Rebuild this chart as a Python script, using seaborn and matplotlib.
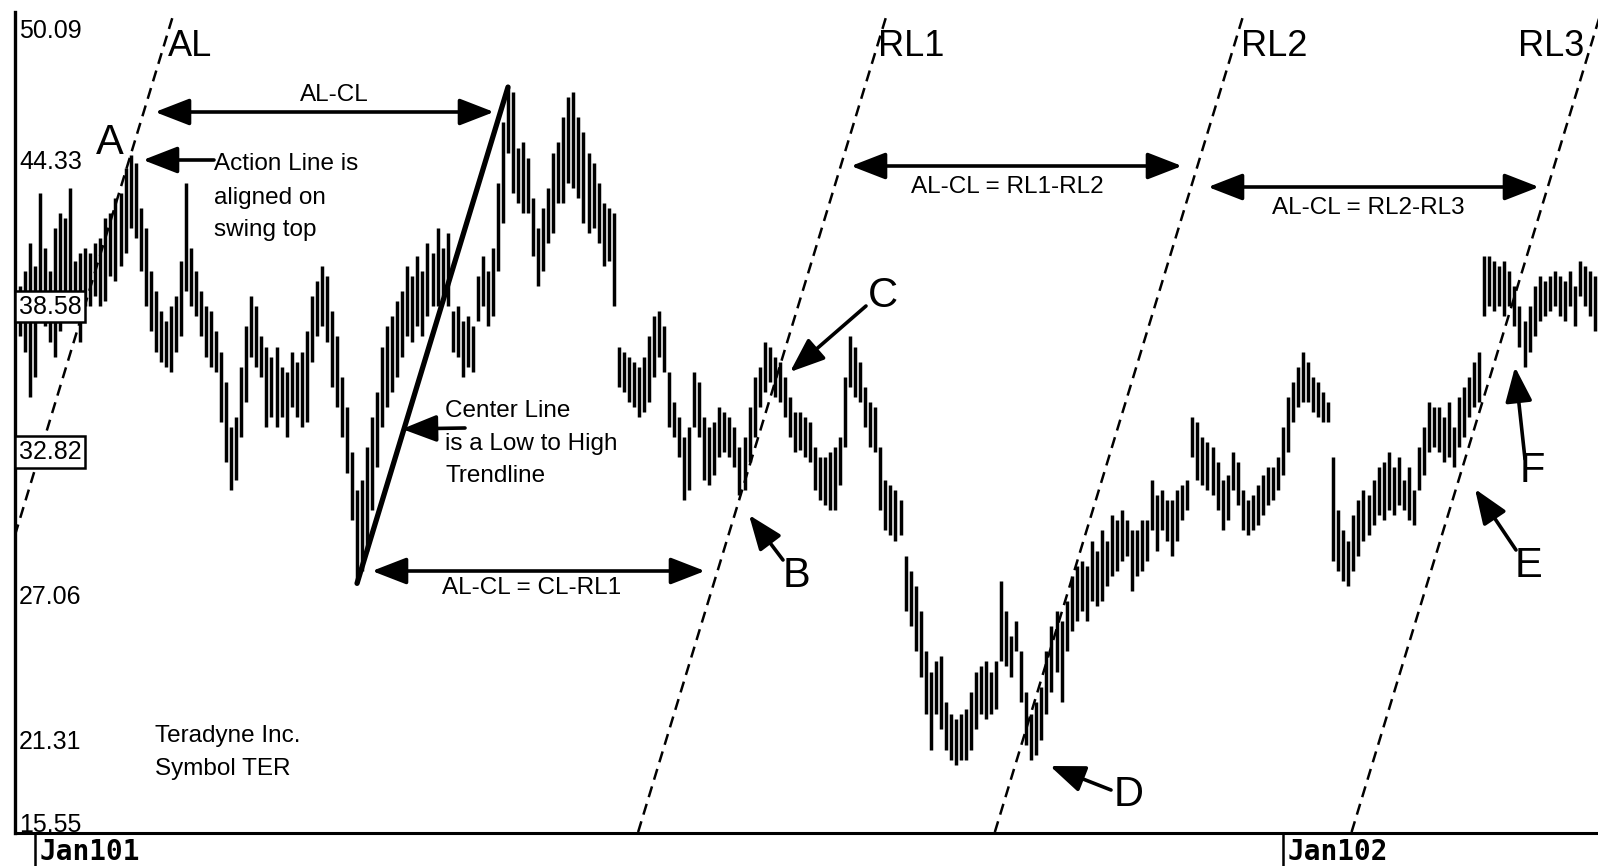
import numpy as np
import pandas as pd
import matplotlib
matplotlib.use("Agg")
import matplotlib.pyplot as plt
import matplotlib.transforms as mtransforms
import seaborn as sns

# ---------------- data (Teradyne daily bars) ----------------
high = [
    39.4, 40.0, 41.1, 40.2, 43.1, 40.9, 40.0, 41.7, 42.3, 42.1,
    43.3, 40.4, 40.7, 40.9, 40.7, 41.1, 41.3, 42.1, 42.3, 42.9,
    43.1, 44.1, 44.6, 44.3, 42.5, 41.7, 40.0, 39.2, 38.4, 38.0,
    38.6, 39.0, 40.4, 43.5, 40.9, 40.0, 39.2, 38.6, 38.4, 37.6,
    36.8, 35.6, 33.8, 34.2, 36.2, 37.8, 39.0, 38.6, 37.4, 37.0,
    36.6, 37.0, 36.2, 36.0, 36.8, 36.4, 36.8, 37.6, 39.0, 39.6,
    40.2, 39.8, 38.4, 37.4, 35.8, 34.6, 32.8, 31.3, 31.7, 33.0,
    34.2, 35.2, 37.0, 37.8, 38.2, 38.8, 39.2, 40.2, 39.8, 40.6,
    40.0, 41.1, 40.7, 41.7, 40.9, 41.5, 38.4, 38.6, 38.0, 38.2,
    37.8, 39.8, 40.6, 40.0, 40.9, 43.5, 45.9, 47.3, 47.1, 44.9,
    45.1, 44.5, 42.9, 41.7, 42.5, 43.3, 44.7, 45.1, 46.1, 46.9,
    47.1, 46.1, 45.5, 44.7, 44.3, 43.5, 42.7, 42.5, 42.3, 37.0,
    36.8, 36.6, 36.4, 36.2, 36.6, 37.4, 38.2, 38.4, 37.8, 36.0,
    34.8, 34.2, 33.4, 33.8, 36.0, 35.6, 34.2, 33.8, 34.0, 34.6,
    34.4, 34.2, 33.8, 33.0, 33.4, 34.6, 35.8, 36.2, 37.2, 37.0,
    36.6, 36.4, 35.8, 35.0, 34.4, 34.4, 34.2, 34.0, 33.0, 32.6,
    32.6, 32.8, 33.0, 33.4, 35.8, 37.4, 37.0, 36.4, 35.4, 34.8,
    34.6, 33.0, 31.7, 31.5, 31.3, 30.9, 28.7, 28.1, 27.5, 26.5,
    24.9, 24.1, 24.5, 24.7, 22.9, 22.4, 22.2, 22.4, 22.6, 23.3,
    24.1, 24.3, 24.5, 24.1, 24.5, 27.7, 26.5, 25.5, 26.1, 24.9,
    23.3, 22.4, 22.9, 23.5, 24.9, 25.9, 26.5, 26.1, 26.9, 27.9,
    28.3, 28.5, 28.3, 29.3, 28.9, 29.7, 29.3, 30.3, 30.1, 30.5,
    30.1, 29.7, 29.7, 30.1, 30.1, 31.7, 31.1, 31.3, 30.9, 30.9,
    31.3, 31.5, 31.7, 34.2, 34.0, 33.4, 33.2, 33.0, 32.4, 31.7,
    31.9, 32.8, 32.4, 31.3, 30.9, 31.1, 31.5, 31.9, 32.2, 32.2,
    32.6, 33.8, 35.0, 35.6, 36.2, 36.8, 36.4, 35.8, 35.6, 35.2,
    34.8, 32.6, 30.5, 29.7, 29.3, 30.3, 30.9, 31.3, 31.1, 31.7,
    32.2, 32.4, 32.8, 32.2, 32.6, 31.7, 32.2, 31.3, 33.0, 33.8,
    34.8, 34.6, 34.6, 34.2, 34.8, 33.8, 35.0, 35.4, 35.8, 36.4,
    36.8, 40.6, 40.6, 40.4, 40.2, 40.4, 40.0, 39.4, 38.6, 38.0,
    38.6, 39.4, 39.8, 39.6, 39.8, 40.0, 39.8, 39.6, 40.0, 39.4,
    40.4, 40.2, 40.0, 39.8]

low = [
    37.4, 36.8, 35.0, 35.8, 38.6, 37.8, 37.2, 36.6, 37.6, 38.6,
    38.8, 38.2, 37.2, 38.6, 38.6, 39.0, 38.6, 38.8, 39.8, 39.6,
    40.2, 40.7, 41.7, 41.3, 40.0, 38.6, 37.6, 36.8, 36.4, 36.2,
    36.0, 36.8, 37.4, 39.2, 38.6, 38.2, 37.4, 36.6, 36.2, 36.0,
    34.0, 32.4, 31.3, 31.7, 33.4, 34.8, 36.6, 36.2, 35.8, 33.8,
    34.2, 33.8, 34.2, 33.4, 34.6, 34.2, 33.8, 34.0, 36.4, 37.4,
    37.8, 37.2, 35.4, 34.6, 33.4, 32.0, 30.1, 27.6, 28.1, 28.9,
    30.5, 32.2, 33.8, 34.6, 35.2, 35.8, 36.6, 37.4, 37.2, 37.8,
    37.4, 38.2, 38.6, 38.6, 39.0, 38.6, 36.8, 36.6, 35.8, 36.2,
    36.0, 38.0, 38.6, 37.8, 38.2, 40.0, 41.9, 44.7, 43.1, 42.7,
    42.3, 42.3, 40.6, 39.4, 40.0, 41.1, 41.5, 42.7, 42.7, 43.5,
    43.3, 42.9, 41.9, 41.5, 41.7, 41.1, 40.2, 40.4, 38.6, 35.4,
    35.2, 34.8, 34.6, 34.2, 34.4, 34.8, 35.8, 36.6, 36.0, 33.8,
    33.4, 32.6, 30.9, 31.3, 33.8, 33.4, 31.7, 31.5, 31.9, 32.6,
    32.8, 32.6, 32.2, 31.1, 31.3, 32.4, 33.4, 34.6, 35.2, 35.6,
    35.0, 34.8, 34.2, 33.4, 32.8, 32.9, 32.6, 32.4, 31.3, 30.9,
    30.7, 30.5, 30.5, 31.5, 33.0, 35.4, 35.0, 34.8, 33.8, 33.0,
    32.8, 30.5, 29.7, 29.5, 29.3, 29.5, 26.5, 25.9, 24.9, 23.9,
    22.4, 21.0, 22.4, 21.8, 21.0, 20.6, 20.4, 20.6, 20.6, 21.0,
    21.8, 22.4, 22.2, 22.4, 22.6, 24.5, 24.3, 23.9, 24.9, 22.9,
    21.2, 20.6, 20.8, 21.4, 22.4, 23.3, 24.1, 22.9, 24.9, 25.7,
    26.1, 26.5, 26.1, 26.9, 26.7, 26.9, 27.5, 27.9, 28.1, 28.5,
    28.7, 27.3, 27.9, 28.1, 28.5, 29.7, 28.9, 29.7, 29.3, 28.7,
    29.3, 30.1, 30.5, 32.6, 31.7, 31.5, 31.3, 31.1, 30.5, 29.7,
    30.1, 31.3, 30.7, 29.7, 29.5, 29.7, 29.9, 30.3, 30.7, 30.9,
    31.3, 31.9, 32.8, 34.0, 34.6, 34.8, 34.8, 34.4, 34.2, 34.0,
    34.0, 28.5, 28.1, 27.7, 27.5, 28.1, 28.7, 29.3, 29.5, 29.9,
    30.3, 30.1, 30.5, 30.3, 30.7, 30.5, 30.1, 29.9, 31.3, 31.9,
    32.8, 33.0, 32.8, 32.4, 32.6, 32.2, 33.0, 33.4, 34.2, 34.6,
    34.8, 38.2, 38.6, 38.4, 38.6, 38.2, 38.6, 37.8, 37.0, 36.2,
    36.8, 37.4, 38.0, 38.2, 38.4, 38.6, 38.2, 38.0, 38.6, 37.8,
    39.0, 38.6, 38.2, 37.6]

price_ticks = [50.09, 44.33, 38.58, 32.82, 27.06, 21.31, 15.55]
boxed_ticks = [38.58, 32.82]
date_tick_days = [3, 251]
date_tick_labels = ["Jan101", "Jan102"]

# anchors of the pitchfork-style lines (bar indices)
al_bar = 22        # swing top "A"
cl_low_bar = 67    # centre line start (low)
cl_high_bar = 97   # centre line end (high)

# ---------------- figure ----------------
sns.set_theme(style="white")
plt.rcParams["font.family"] = ["Liberation Sans", "DejaVu Sans"]

W, H = 1598, 866
fig = plt.figure(figsize=(W / 100, H / 100), dpi=100)
ax_top, ax_bot, ax_left = 12, 833, 15
ax = fig.add_axes([ax_left / W, (H - ax_bot) / H, (W - ax_left) / W, (ax_bot - ax_top) / H])

n = len(high)
day = np.arange(n)
df = pd.DataFrame({"day": np.concatenate([day, day]),
                   "price": np.concatenate([high, low])})
sns.lineplot(data=df, x="day", y="price", units="day", estimator=None,
             color="black", linewidth=2.5, ax=ax, legend=False,
             solid_capstyle="butt")

ylo, yhi = 17.69, 50.28
ax.set_xlim(-0.97, 313.6)
ax.set_ylim(ylo, yhi)
ax.set_xlabel("")
ax.set_ylabel("")
ax.set_xticks([])
ax.set_yticks([])
for s in ["top", "right"]:
    ax.spines[s].set_visible(False)
ax.spines["left"].set_linewidth(2.4)
ax.spines["bottom"].set_linewidth(2.2)
ax.spines["left"].set_color("black")
ax.spines["bottom"].set_color("black")

# ---------------- centre line, action line and reaction lines ----------------
hi = np.array(high)
lo = np.array(low)
slope = (hi[cl_high_bar] - lo[cl_low_bar]) / (cl_high_bar - cl_low_bar)
ax.plot([cl_low_bar, cl_high_bar], [lo[cl_low_bar], hi[cl_high_bar]],
        color="black", lw=3.8, solid_capstyle="round", zorder=4)
a_price = hi[al_bar]
shift = cl_low_bar + (a_price - lo[cl_low_bar]) / slope - al_bar
xs = np.array([-20.0, 340.0])
for k in [0, 2, 3, 4]:
    x0 = al_bar + k * shift
    ax.plot(xs, a_price + slope * (xs - x0), color="black", lw=1.8,
            ls=(0, (4.5, 2.8)), zorder=4)

# ---------------- price labels inside the axis ----------------
ytrans = mtransforms.blended_transform_factory(ax.transAxes, ax.transData)
for v in price_ticks:
    yv = float(np.clip(v, ylo + 0.3, yhi - 0.75))
    kw = dict(transform=ytrans, ha="left", va="center", fontsize=18,
              color="black", zorder=6)
    if v in boxed_ticks:
        kw["bbox"] = dict(boxstyle="square,pad=0.15", fc="white", ec="black", lw=1.8)
    ax.text(0.0025, yv, f"{v:.2f}", **kw)

# ---------------- date ticks ----------------
xtrans = mtransforms.blended_transform_factory(ax.transData, ax.transAxes)
for d, lab in zip(date_tick_days, date_tick_labels):
    ax.plot([d, d], [0, -0.045], transform=xtrans, color="black", lw=1.8, clip_on=False)
    ax.text(d + 1.0, -0.023, lab, transform=xtrans, ha="left", va="center",
            family="DejaVu Sans Mono", fontweight="bold", fontsize=20, color="black")

# ---------------- annotations (figure pixel layout) ----------------
def fp(x, y):
    return (x, H - y)

def arrow(tail, tip, both=False):
    style = ("<|-|>" if both else "-|>") + ",head_length=0.85,head_width=0.33"
    ax.annotate("", xy=fp(*tip), xytext=fp(*tail),
                xycoords="figure pixels", textcoords="figure pixels",
                arrowprops=dict(arrowstyle=style, color="black", lw=2.6,
                                mutation_scale=25, shrinkA=0, shrinkB=0),
                zorder=7)

def label(x, y, s, size, ha="left", va="center"):
    fig.text(x / W, 1 - y / H, s, fontsize=size, ha=ha, va=va, color="black")

# big labels
label(168, 46, "AL", 26)
label(878, 46, "RL1", 26)
label(1241, 46, "RL2", 26)
label(1518, 46, "RL3", 26)
label(110, 143, "A", 30, ha="center")
label(797, 576, "B", 30, ha="center")
label(883, 296, "C", 30, ha="center")
label(1129, 795, "D", 30, ha="center")
label(1529, 566, "E", 30, ha="center")
label(1532, 471, "F", 30, ha="center")

# explanatory text
label(334, 95, "AL-CL", 17.5, ha="center")
label(214, 164, "Action Line is", 17.5)
label(214, 198, "aligned on", 17.5)
label(214, 230, "swing top", 17.5)
label(445, 411, "Center Line", 17.5)
label(445, 444, "is a Low to High", 17.5)
label(445, 476, "Trendline", 17.5)
label(532, 588, "AL-CL = CL-RL1", 17.5, ha="center")
label(1007, 187, "AL-CL = RL1-RL2", 17.5, ha="center")
label(1368, 208, "AL-CL = RL2-RL3", 17.5, ha="center")
label(155, 736, "Teradyne Inc.", 17.5)
label(155, 769, "Symbol TER", 17.5)

# arrows
arrow((155, 112), (494, 112), both=True)
arrow((214, 160), (143, 160))
arrow((465, 428), (402, 429))
arrow((372, 571), (705, 571), both=True)
arrow((851, 166), (1182, 166), both=True)
arrow((1208, 187), (1539, 187), both=True)
arrow((783, 560), (749, 515))
arrow((866, 306), (790, 372))
arrow((1111, 790), (1050, 766))
arrow((1516, 550), (1475, 489))
arrow((1525, 459), (1515, 367))

fig.savefig("out.png", dpi=100, facecolor="white")
